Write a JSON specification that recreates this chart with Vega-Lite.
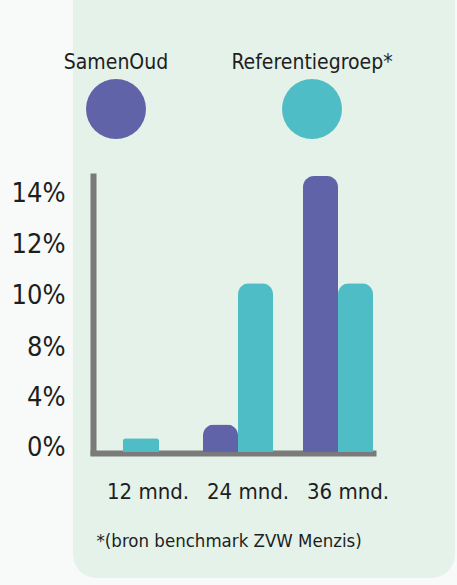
{
  "$schema": "https://vega.github.io/schema/vega-lite/v6.json",
  "width": 382,
  "height": 608,
  "autosize": {"type": "none"},
  "padding": {"left": 73, "top": -30, "right": 2, "bottom": 7},
  "background": "#F7FAF8",
  "config": {
    "view": {"fill": "#E4F2EA", "stroke": null, "cornerRadius": 24},
    "font": "DejaVu Sans Condensed, Roboto, sans-serif",
    "text": {"font": "DejaVu Sans Condensed, Roboto, sans-serif"}
  },
  "datasets": {
    "bars": [
      {"month": "12 mnd.", "series": "SamenOud", "value": 0},
      {"month": "12 mnd.", "series": "Referentiegroep", "value": 1.1},
      {"month": "24 mnd.", "series": "SamenOud", "value": 2.2},
      {"month": "24 mnd.", "series": "Referentiegroep", "value": 10.7},
      {"month": "36 mnd.", "series": "SamenOud", "value": 14.9},
      {"month": "36 mnd.", "series": "Referentiegroep", "value": 10.7}
    ],
    "legend": [
      {"series": "SamenOud", "label": "SamenOud"},
      {"series": "Referentiegroep", "label": "Referentiegroep*"}
    ]
  },
  "resolve": {"scale": {"x": "independent", "y": "independent"}},
  "layer": [
    {
      "data": {"name": "bars"},
      "encoding": {
        "x": {
          "field": "month",
          "type": "nominal",
          "scale": {"domain": ["12 mnd.", "24 mnd.", "36 mnd."], "range": [20, 300], "paddingInner": 0.3, "paddingOuter": 0.05, "align": 1},
          "axis": {
            "title": "*(bron benchmark ZVW Menzis)",
            "titleFont": "DejaVu Sans Condensed, Roboto, sans-serif",
            "titleFontSize": 18.5,
            "titleFontWeight": "normal",
            "titleColor": "#1E1E1E",
            "titleAnchor": "start",
            "titleAlign": "left",
            "titleBaseline": "middle",
            "titleX": 23,
            "titleY": 87,
            "labelAngle": 0,
            "labelFont": "DejaVu Sans Condensed, Roboto, sans-serif",
            "labelFontSize": 22,
            "labelColor": "#1E1E1E",
            "labelPadding": 28,
            "labelOffset": 10,
            "ticks": false,
            "domainColor": "#7A7A7A",
            "domainWidth": 6,
            "domainCap": "square",
            "offset": -125,
            "grid": false
          }
        },
        "y": {
          "field": "value",
          "type": "quantitative",
          "scale": {"domain": [0, 8, 14.9], "range": [482, 382, 206], "nice": false},
          "axis": {
            "title": null,
            "values": [0, 4, 8, 10, 12, 14],
            "labelExpr": "datum.value + '%'",
            "labelFont": "DejaVu Sans Condensed, Roboto, sans-serif",
            "labelFontSize": 27,
            "labelColor": "#1E1E1E",
            "labelPadding": 28,
            "labelOffset": -5,
            "ticks": false,
            "grid": false,
            "domainColor": "#7A7A7A",
            "domainWidth": 6,
            "domainCap": "square",
            "offset": -20
          }
        },
        "color": {
          "field": "series",
          "type": "nominal",
          "scale": {"domain": ["SamenOud", "Referentiegroep"], "range": ["#6163A9", "#4FBDC5"]},
          "legend": null
        }
      },
      "layer": [
        {
          "transform": [{"filter": "datum.month != '12 mnd.'"}],
          "mark": {"type": "bar", "cornerRadiusTopLeft": 11, "cornerRadiusTopRight": 11},
          "encoding": {
            "xOffset": {"field": "series", "type": "nominal", "scale": {"domain": ["SamenOud", "Referentiegroep"]}}
          }
        },
        {
          "transform": [{"filter": "datum.month == '12 mnd.' && datum.value > 0"}],
          "mark": {"type": "bar", "width": {"band": 0.52}, "xOffset": 3, "cornerRadiusTopLeft": 3, "cornerRadiusTopRight": 3}
        }
      ]
    },
    {
      "data": {"name": "legend"},
      "encoding": {
        "x": {
          "field": "series",
          "type": "nominal",
          "scale": {"type": "point", "domain": ["SamenOud", "Referentiegroep"], "range": [43, 239], "padding": 0},
          "axis": null
        },
        "y": {"datum": "legend", "type": "nominal", "scale": {"type": "point", "range": [139, 139]}, "axis": null}
      },
      "layer": [
        {
          "mark": {"type": "circle", "size": 3600, "opacity": 1},
          "encoding": {"color": {"field": "series", "type": "nominal", "legend": null}}
        },
        {
          "mark": {"type": "text", "dy": -46, "align": "center", "baseline": "middle", "fontSize": 21, "color": "#1E1E1E", "font": "DejaVu Sans Condensed, Roboto, sans-serif"},
          "encoding": {"text": {"field": "label"}}
        }
      ]
    }
  ]
}
